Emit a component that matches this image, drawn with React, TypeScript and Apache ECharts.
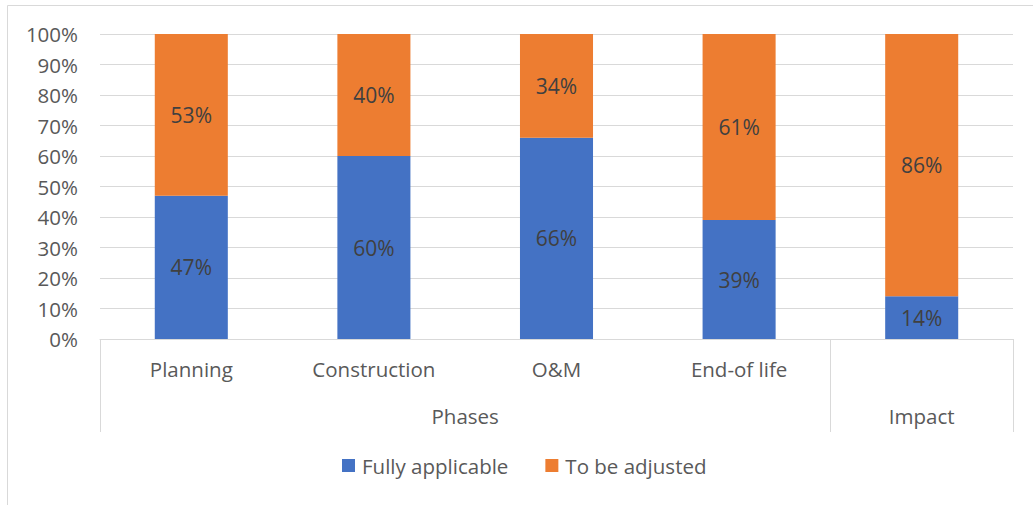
import React, { useEffect, useRef } from "react";
import * as echarts from "echarts";

const subCategories = ["Planning", "Construction", "O&M", "End-of life", ""];
const groupLabels = ["Phases", "Impact"];
const groupCenters = [2, 4.5];
const groupBoundaries = [0, 4];
const fullyApplicable = [47, 60, 66, 39, 14];
const toBeAdjusted = [53, 40, 34, 61, 86];
const seriesNames = ["Fully applicable", "To be adjusted"];

const FONT = "'Open Sans', sans-serif";
const AXIS_SIZE = 20.5;

export default function App() {
  const ref = useRef<HTMLDivElement>(null);
  useEffect(() => {
    if (!ref.current) return;
    const chart = echarts.init(ref.current, null, { renderer: "svg" });
    const labelStyle = {
      show: true,
      position: "inside" as const,
      formatter: (p: any) => p.value + "%",
      color: "#404040",
      fontSize: 21,
      fontFamily: FONT,
    };
    chart.setOption({
      animation: false,
      textStyle: { fontFamily: FONT },
      graphic: [
        {
          type: "rect",
          shape: { x: 7.5, y: 5.5, width: 1040, height: 520 },
          style: { fill: "none", stroke: "#d9d9d9", lineWidth: 1 },
          silent: true,
        },
      ],
      grid: { left: 100, right: 20, top: 34, bottom: 166, containLabel: false },
      legend: {
        bottom: 24,
        left: 337,
        itemWidth: 13,
        itemHeight: 13,
        itemGap: 37,
        icon: "rect",
        textStyle: { color: "#595959", fontSize: AXIS_SIZE, fontFamily: FONT, padding: [0, 0, 0, 2] },
        data: seriesNames,
      },
      xAxis: [
        {
          type: "category",
          data: subCategories,
          axisLine: { show: true, lineStyle: { color: "#d9d9d9", width: 1 } },
          axisTick: {
            show: true,
            length: 93,
            interval: (index: number) => groupBoundaries.includes(index),
            lineStyle: { color: "#d9d9d9", width: 1 },
          },
          axisLabel: {
            color: "#595959",
            fontSize: AXIS_SIZE,
            fontFamily: FONT,
            margin: 19,
            interval: 0,
          },
        },
        {
          type: "value",
          position: "bottom",
          min: 0,
          max: 5,
          interval: 0.5,
          offset: 0,
          axisLine: { show: false },
          axisTick: { show: false },
          splitLine: { show: false },
          axisLabel: {
            color: "#595959",
            fontSize: AXIS_SIZE,
            fontFamily: FONT,
            margin: 66,
            showMinLabel: false,
            showMaxLabel: false,
            formatter: (v: number) => {
              const i = groupCenters.indexOf(v);
              return i >= 0 ? groupLabels[i] : "";
            },
          },
        },
      ],
      yAxis: {
        type: "value",
        min: 0,
        max: 100,
        interval: 10,
        axisLine: { show: false },
        axisTick: { show: false },
        splitLine: { lineStyle: { color: "#d9d9d9", width: 1 } },
        axisLabel: {
          color: "#595959",
          fontSize: AXIS_SIZE,
          fontFamily: FONT,
          margin: 22,
          formatter: (v: number) => v + "%",
        },
      },
      series: [
        {
          name: seriesNames[0],
          type: "bar",
          stack: "total",
          barWidth: "40%",
          data: fullyApplicable,
          itemStyle: { color: "#4472c4" },
          label: labelStyle,
        },
        {
          name: seriesNames[1],
          type: "bar",
          stack: "total",
          barWidth: "40%",
          data: toBeAdjusted,
          itemStyle: { color: "#ed7d31" },
          label: labelStyle,
        },
      ],
    });
    return () => chart.dispose();
  }, []);
  return (
    <div
      ref={ref}
      style={{ position: "fixed", left: 0, top: 0, width: 1033, height: 505, background: "#fff" }}
    />
  );
}
